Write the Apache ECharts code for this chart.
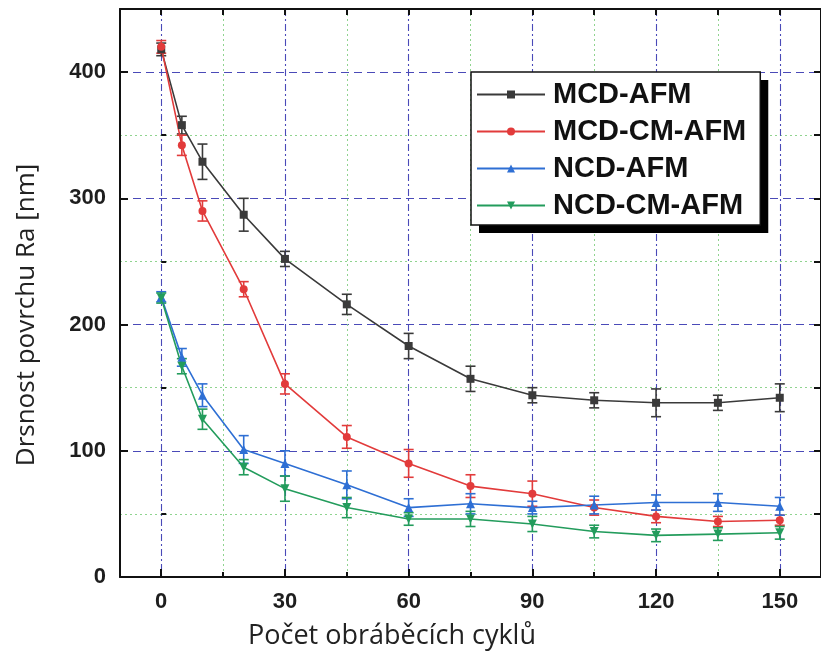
<!DOCTYPE html>
<html>
<head>
<meta charset="utf-8">
<script src="https://cdn.jsdelivr.net/npm/echarts@6/dist/echarts.min.js"></script>
<style>html,body{margin:0;padding:0;background:#fff}#c{width:821px;height:666px}</style>
</head>
<body>
<div id="c"></div>
<script>
// ---- data ----
const xValues = [0, 5, 10, 20, 30, 45, 60, 75, 90, 105, 120, 135, 150];
const seriesNames = ['MCD-AFM', 'MCD-CM-AFM', 'NCD-AFM', 'NCD-CM-AFM'];
const mcdAfm      = [418, 358, 329, 287, 252, 216, 183, 157, 144, 140, 138, 138, 142];
const mcdAfmErr   = [5, 7, 14, 13, 6, 8, 10, 10, 6, 6, 11, 6, 11];
const mcdCmAfm    = [420, 342, 290, 228, 153, 111, 90, 72, 66, 55, 48, 44, 45];
const mcdCmAfmErr = [5, 8, 8, 6, 8, 9, 11, 9, 10, 6, 5, 4, 4];
const ncdAfm      = [222, 174, 144, 101, 90, 73, 55, 58, 55, 57, 59, 59, 56];
const ncdAfmErr   = [4, 7, 9, 11, 10, 11, 7, 8, 5, 7, 6, 7, 7];
const ncdCmAfm    = [221, 167, 125, 87, 70, 55, 46, 46, 42, 36, 33, 34, 35];
const ncdCmAfmErr = [4, 6, 8, 6, 10, 8, 5, 6, 6, 5, 5, 5, 5];
const xMajorTicks = [0, 30, 60, 90, 120, 150];
const xMinorTicks = [15, 45, 75, 105, 135];
const yMajorTicks = [0, 100, 200, 300, 400];
const yMinorTicks = [50, 150, 250, 350];
const xTitle = 'Počet obráběcích cyklů';
const yTitle = 'Drsnost povrchu Ra [nm]';

// ---- styles ----
const colors = ['#3a3a3a', '#e23b3b', '#2e6fd4', '#239c5c'];
const symbols = ['rect', 'circle', 'triangle', 'triangle'];
const symbolRotates = [0, 0, 0, 180];
const symbolSizes = [8, 8, 9, 9];
const values = [mcdAfm, mcdCmAfm, ncdAfm, ncdCmAfm];
const errs = [mcdAfmErr, mcdCmAfmErr, ncdAfmErr, ncdCmAfmErr];

const chart = echarts.init(document.getElementById('c'), null, {renderer: 'canvas'});

const series = [];
values.forEach((vals, i) => {
  series.push({
    name: seriesNames[i] + ' err',
    type: 'custom',
    xAxisIndex: 0, yAxisIndex: 0,
    z: 3,
    encode: {x: 0, y: [1, 2]},
    data: xValues.map((x, k) => [x, vals[k] - errs[i][k], vals[k] + errs[i][k]]),
    renderItem: function (params, api) {
      const lo = api.coord([api.value(0), api.value(1)]);
      const hi = api.coord([api.value(0), api.value(2)]);
      const hw = 5;
      const st = {stroke: colors[i], lineWidth: 1.6};
      return {
        type: 'group',
        children: [
          {type: 'line', shape: {x1: lo[0], y1: lo[1], x2: hi[0], y2: hi[1]}, style: st},
          {type: 'line', shape: {x1: lo[0] - hw, y1: lo[1], x2: lo[0] + hw, y2: lo[1]}, style: st},
          {type: 'line', shape: {x1: hi[0] - hw, y1: hi[1], x2: hi[0] + hw, y2: hi[1]}, style: st}
        ]
      };
    }
  });
});
values.forEach((vals, i) => {
  series.push({
    name: seriesNames[i],
    type: 'line',
    xAxisIndex: 0, yAxisIndex: 0,
    z: 4,
    data: xValues.map((x, k) => [x, vals[k]]),
    symbol: symbols[i],
    symbolRotate: symbolRotates[i],
    symbolSize: symbolSizes[i],
    showAllSymbol: true,
    lineStyle: {color: colors[i], width: 1.6},
    itemStyle: {color: colors[i]},
    emphasis: {disabled: true}
  });
});

const blackLine = {color: '#111', width: 2};
const majorGrid = {color: '#4a4ab8', width: 1.1};
const minorGrid = {color: '#8fd48f', width: 1, type: [2, 3]};
const labelFont = {fontSize: 22, fontWeight: 'bold', color: '#1e1e1e', fontFamily: 'Liberation Sans'};

const legendBase = {
  data: seriesNames,
  left: 471, top: 72,
  orient: 'vertical',
  itemWidth: 68, itemHeight: 10, itemGap: 8,
  padding: [8, 14, 5, 5],
  selectedMode: false
};
const legendFont = {fontSize: 29, fontWeight: 'bold', fontFamily: 'Liberation Sans', padding: [0, 0, 0, 3]};

const option = {
  animation: false,
  backgroundColor: '#fff',
  grid: {left: 120, right: -5, top: 9, bottom: 89, containLabel: false},
  xAxis: [
    {
      type: 'value', min: -10, max: 160, position: 'bottom',
      axisLine: {show: true, onZero: false, lineStyle: blackLine},
      axisTick: {show: true, inside: true, length: 8, customValues: xMajorTicks, lineStyle: blackLine},
      axisLabel: Object.assign({customValues: xMajorTicks, margin: 14}, labelFont),
      splitLine: {show: true, lineStyle: Object.assign({type: [7, 3, 2, 3]}, majorGrid)}
    },
    {
      type: 'value', min: -10, max: 160, position: 'bottom',
      axisLine: {show: false},
      axisTick: {show: true, inside: true, length: 5, customValues: xMinorTicks, lineStyle: blackLine},
      axisLabel: {show: false, customValues: xMinorTicks},
      splitLine: {show: true, lineStyle: minorGrid}
    },
    {
      type: 'value', min: -10, max: 160, position: 'top',
      axisLine: {show: true, onZero: false, lineStyle: blackLine},
      axisTick: {show: true, inside: true, length: 6, customValues: xMajorTicks.concat(xMinorTicks), lineStyle: blackLine},
      axisLabel: {show: false, customValues: xMajorTicks.concat(xMinorTicks)},
      splitLine: {show: false}
    }
  ],
  yAxis: [
    {
      type: 'value', min: 0, max: 450, position: 'left',
      axisLine: {show: true, onZero: false, lineStyle: blackLine},
      axisTick: {show: true, inside: true, length: 8, customValues: yMajorTicks, lineStyle: blackLine},
      axisLabel: Object.assign({customValues: yMajorTicks, margin: 14}, labelFont),
      splitLine: {show: true, lineStyle: Object.assign({type: [8, 5]}, majorGrid)}
    },
    {
      type: 'value', min: 0, max: 450, position: 'left',
      axisLine: {show: false},
      axisTick: {show: true, inside: true, length: 5, customValues: yMinorTicks, lineStyle: blackLine},
      axisLabel: {show: false, customValues: yMinorTicks},
      splitLine: {show: true, lineStyle: minorGrid}
    },
    {
      type: 'value', min: 0, max: 450, position: 'right',
      axisLine: {show: true, onZero: false, lineStyle: blackLine},
      axisTick: {show: true, inside: true, length: 7, customValues: yMajorTicks.concat(yMinorTicks), lineStyle: blackLine},
      axisLabel: {show: false, customValues: yMajorTicks.concat(yMinorTicks)},
      splitLine: {show: false}
    }
  ],
  legend: [
    Object.assign({}, legendBase, {
      z: 6,
      backgroundColor: '#fff',
      borderWidth: 0,
      shadowColor: '#000', shadowBlur: 0, shadowOffsetX: 8, shadowOffsetY: 8,
      textStyle: Object.assign({color: '#111'}, legendFont)
    }),
    Object.assign({}, legendBase, {
      z: 7,
      backgroundColor: 'transparent',
      borderColor: '#111', borderWidth: 1.5,
      itemStyle: {opacity: 0},
      lineStyle: {opacity: 0},
      textStyle: Object.assign({color: 'rgba(0,0,0,0)'}, legendFont)
    })
  ],
  graphic: [
    {type: 'text', x: 392, y: 636, z: 10,
     style: {text: xTitle, fill: '#222', font: '27px "Open Sans"', textAlign: 'center', textVerticalAlign: 'middle'}},
    {type: 'text', x: 27, y: 315, rotation: Math.PI / 2, z: 10,
     style: {text: yTitle, fill: '#222', font: '26px "Open Sans"', textAlign: 'center', textVerticalAlign: 'middle'}}
  ],
  series: series
};
chart.setOption(option);
</script>
</body>
</html>
